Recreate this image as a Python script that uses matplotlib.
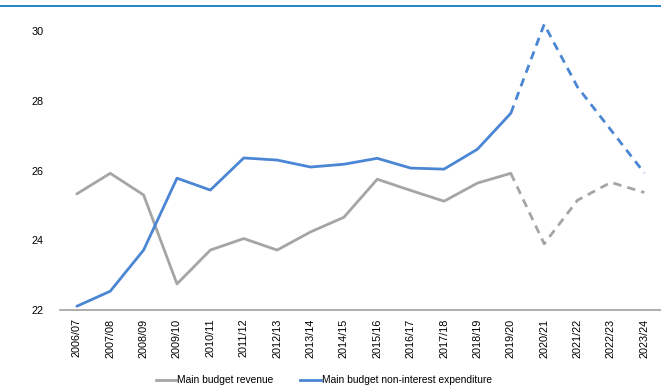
import matplotlib
matplotlib.use("Agg")
import matplotlib.pyplot as plt
from matplotlib.lines import Line2D

years = ["2006/07", "2007/08", "2008/09", "2009/10", "2010/11", "2011/12",
         "2012/13", "2013/14", "2014/15", "2015/16", "2016/17", "2017/18",
         "2018/19", "2019/20", "2020/21", "2021/22", "2022/23", "2023/24"]
revenue = [25.33, 25.92, 25.30, 22.75, 23.72, 24.05, 23.72, 24.24, 24.66,
           25.75, 25.43, 25.12, 25.64, 25.92, 23.90, 25.15, 25.66, 25.37]
expenditure = [22.11, 22.54, 23.72, 25.78, 25.44, 26.36, 26.30, 26.10, 26.18,
               26.35, 26.07, 26.04, 26.61, 27.64, 30.19, 28.39, 27.16, 25.93]
split = 13  # projections start after 2019/20

gray = "#A5A5A5"
blue = "#4A86D4"

plt.rcParams["font.family"] = ["Liberation Sans", "DejaVu Sans"]

fig = plt.figure(figsize=(6.61, 3.92), dpi=100)
ax = fig.add_axes([0.091, 0.209, 0.909, 0.712])

x = list(range(len(years)))
kw = dict(lw=2.0, clip_on=False)
ax.plot(x[:split + 1], revenue[:split + 1], color=gray, solid_capstyle="round", **kw)
ax.plot(x[split:], revenue[split:], color=gray, ls=(0, (3, 2.2)), **kw)
ax.plot(x[:split + 1], expenditure[:split + 1], color=blue, solid_capstyle="round", **kw)
ax.plot(x[split:], expenditure[split:], color=blue, ls=(0, (3, 2.2)), **kw)

ax.set_xlim(-0.5, len(years) - 0.5)
ax.set_ylim(22, 30)
ax.set_yticks([22, 24, 26, 28, 30])
ax.set_xticks(x)
ax.set_xticklabels(years, rotation=90, fontsize=7.8)
ax.tick_params(axis="y", length=0, labelsize=7.8, pad=12)
ax.tick_params(axis="x", length=0, pad=6)
for s in ["top", "right", "left"]:
    ax.spines[s].set_visible(False)
ax.spines["bottom"].set_color("#A0A0A0")
ax.spines["bottom"].set_linewidth(1.2)

handles = [Line2D([], [], color=gray, lw=2.0), Line2D([], [], color=blue, lw=2.0)]
fig.legend(handles, ["Main budget revenue", "Main budget non-interest expenditure"],
           loc="center", bbox_to_anchor=(0.49, 0.03), ncol=2, frameon=False,
           fontsize=7.4, handlelength=2.0, handletextpad=0.1, columnspacing=2.6)

fig.add_artist(Line2D([0, 1], [0.985, 0.985], color="#0070C0", lw=1.2,
                      transform=fig.transFigure))

fig.savefig("out.png", dpi=100)
